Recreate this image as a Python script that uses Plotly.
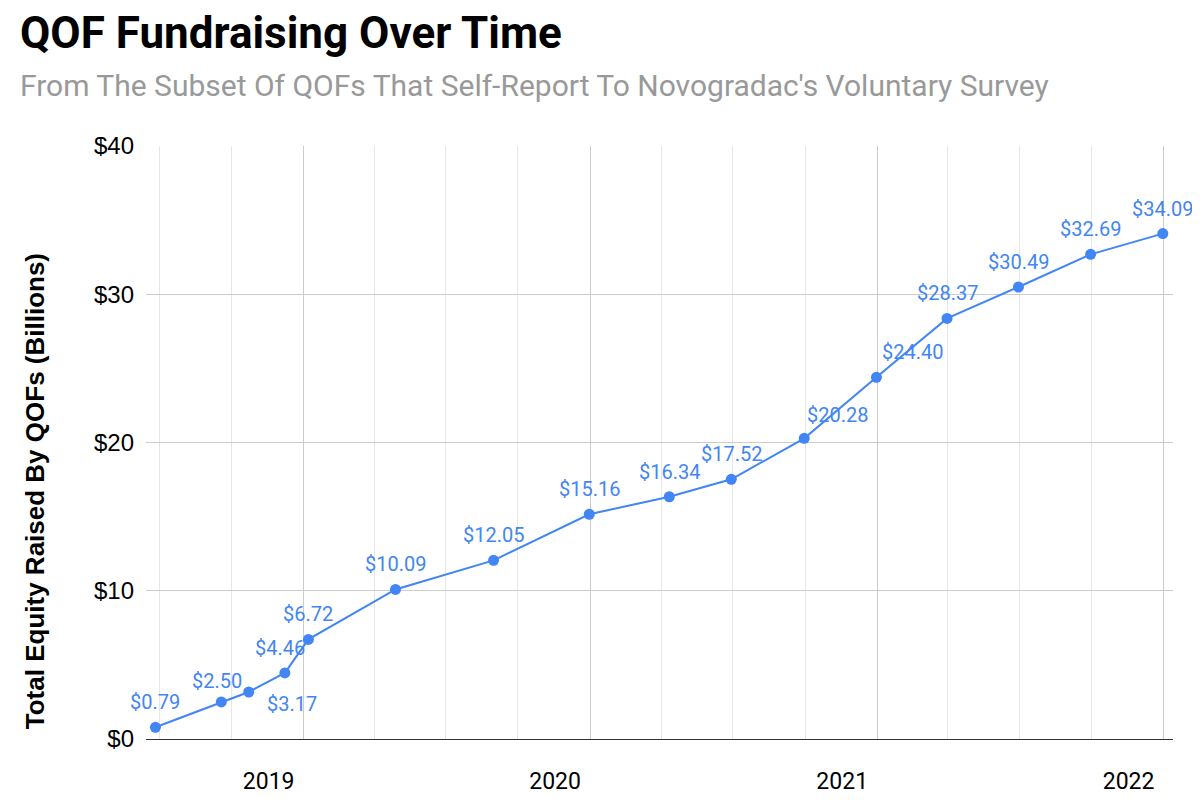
import plotly.graph_objects as go

# survey dates and cumulative equity raised (billions of dollars)
dates = [
    "2018-06-26", "2018-09-18", "2018-10-23", "2018-12-08", "2019-01-07",
    "2019-04-28", "2019-08-31", "2019-12-31", "2020-04-11", "2020-06-29",
    "2020-09-30", "2020-12-31", "2021-03-31", "2021-06-30", "2021-09-30",
    "2021-12-31",
]
equity = [0.79, 2.50, 3.17, 4.46, 6.72, 10.09, 12.05, 15.16, 16.34, 17.52,
          20.28, 24.40, 28.37, 30.49, 32.69, 34.09]

year_ticks = ["2019-01-01", "2020-01-01", "2021-01-01", "2022-01-01"]
year_labels = ["2019", "2020", "2021", "2022"]

# label nudges in pixels (x, y) so labels sit where the original put them
label_shift = {2: (43, -12), 1: (-4, 21), 3: (-5, 25), 10: (33, 23), 11: (36, 25)}

blue = "#4285F4"

fig = go.Figure()

fig.add_trace(go.Scatter(
    x=dates,
    y=equity,
    mode="lines+markers",
    line=dict(color=blue, width=2),
    marker=dict(color=blue, size=11),
    hoverinfo="skip",
    showlegend=False,
))

# data labels
for i, (d, v) in enumerate(zip(dates, equity)):
    dx, dy = label_shift.get(i, (0, 25))
    fig.add_annotation(
        x=d, y=v, xref="x", yref="y",
        text=f"${v:.2f}",
        showarrow=False,
        xshift=dx, yshift=dy,
        font=dict(family="Roboto", size=20, color=blue),
    )

# title + subtitle
fig.add_annotation(
    x=-0.1247, y=1.1906, xref="paper", yref="paper",
    xanchor="left", yanchor="middle", showarrow=False,
    text="<b>QOF Fundraising Over Time</b>",
    font=dict(family="Roboto", size=44, color="#000000"),
)
fig.add_annotation(
    x=-0.1247, y=1.1012, xref="paper", yref="paper",
    xanchor="left", yanchor="middle", showarrow=False,
    text="From The Subset Of QOFs That Self-Report To Novogradac's Voluntary Survey",
    font=dict(family="Roboto", size=30, color="#999999"),
)

# y axis title
fig.add_annotation(
    x=-0.108, y=0.418, xref="paper", yref="paper",
    xanchor="center", yanchor="middle", showarrow=False, textangle=-90,
    text="<b>Total Equity Raised By QOFs (Billions)</b>",
    font=dict(family="Liberation Sans, Arial", size=26, color="#000000"),
)

# the page body adds an 8px offset, so margins are set to compensate
fig.update_layout(
    width=1200,
    height=806,
    margin=dict(l=138, r=35, t=138, b=75),
    paper_bgcolor="white",
    plot_bgcolor="white",
    xaxis=dict(
        type="date",
        range=["2018-06-14", "2022-01-13"],
        tickvals=year_ticks,
        ticktext=year_labels,
        ticklabelshift=-35,
        ticklabelstandoff=21,
        ticks="",
        showgrid=True,
        gridcolor="#cccccc",
        gridwidth=1,
        minor=dict(dtick="M3", tick0="2018-07-01", showgrid=True,
                   gridcolor="#e6e6e6", gridwidth=1, ticks=""),
        showline=True,
        linecolor="#333333",
        linewidth=1,
        zeroline=False,
        tickfont=dict(family="Roboto", size=23, color="#000000"),
        automargin=False,
        fixedrange=True,
    ),
    yaxis=dict(
        range=[0, 40],
        dtick=10,
        tickprefix="$",
        ticks="",
        ticklabelstandoff=11,
        showgrid=True,
        gridcolor="#cccccc",
        gridwidth=1,
        zeroline=False,
        showline=False,
        tickfont=dict(family="Liberation Sans, Arial", size=24, color="#000000"),
        automargin=False,
        fixedrange=True,
    ),
)

fig.write_html("out.html")
